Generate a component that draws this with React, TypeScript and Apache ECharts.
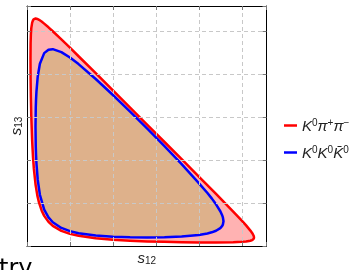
import React, { useEffect, useRef } from "react";
import * as echarts from "echarts";

// Dalitz-plot boundaries (units: GeV^2)
const redS12 = [0.406, 0.42, 0.45, 0.5, 0.6, 0.7, 0.8, 1, 1.2, 1.4, 1.7, 2, 2.5, 3, 4, 5, 6, 8, 10, 12, 14, 16, 18, 20, 22, 24, 25, 25.5, 26, 26.2, 26.3, 26.4, 26.42];
const redUpper = [21.7, 23.52, 24.54, 25.31, 25.95, 26.22, 26.35, 26.42, 26.37, 26.27, 26.07, 25.83, 25.4, 24.94, 24.0, 23.03, 22.04, 20.07, 18.08, 16.08, 14.08, 12.08, 10.08, 8.07, 6.04, 4.0, 2.94, 2.39, 1.79, 1.52, 1.35, 1.12, 0.99];
const redLower = [21.7, 19.35, 17.29, 15.06, 12.21, 10.32, 8.95, 7.1, 5.88, 5.03, 4.13, 3.5, 2.8, 2.34, 1.75, 1.41, 1.18, 0.89, 0.72, 0.61, 0.53, 0.48, 0.44, 0.41, 0.41, 0.43, 0.48, 0.52, 0.61, 0.69, 0.75, 0.88, 0.99];

const blueS12 = [0.99, 1.02, 1.05, 1.1, 1.25, 1.5, 2, 2.5, 3, 4, 5, 6, 8, 10, 12, 14, 16, 18, 20, 21, 21.5, 22, 22.5, 22.7, 22.8, 22.87];
const blueUpper = [13.81, 16.06, 16.95, 17.94, 19.69, 21.17, 22.4, 22.8, 22.86, 22.52, 21.89, 21.13, 19.4, 17.54, 15.61, 13.63, 11.6, 9.51, 7.31, 6.16, 5.53, 4.84, 4.04, 3.61, 3.33, 2.88];
const blueLower = [13.81, 11.54, 10.62, 9.58, 7.68, 5.95, 4.22, 3.32, 2.76, 2.1, 1.73, 1.49, 1.22, 1.08, 1.01, 0.99, 1.02, 1.1, 1.29, 1.46, 1.59, 1.77, 2.08, 2.3, 2.49, 2.88];

const seriesNames = ["K0pipi", "K0K0K0bar"];
const legendRich: Record<string, string> = {
  K0pipi: "{k|K}{s|0}{k|π}{s|+}{k|π}{s|−}",
  K0K0K0bar: "{k|K}{s|0}{k|K}{s|0}{k|K\u0304}{s|0}",
};
const axisMax = 27.875;
const gridStep = 5;

function closedLoop(xs: number[], up: number[], lo: number[]) {
  const pts: number[][] = xs.map((x, i) => [x, up[i]]);
  for (let i = xs.length - 1; i >= 0; i--) pts.push([xs[i], lo[i]]);
  return pts;
}

export default function App() {
  const ref = useRef<HTMLDivElement>(null);
  useEffect(() => {
    if (!ref.current) return;
    const chart = echarts.init(ref.current, undefined, { renderer: "svg" });
    const redLoop = closedLoop(redS12, redUpper, redLower);
    const blueLoop = closedLoop(blueS12, blueUpper, blueLower);

    const makeSeries = (name: string, pts: number[][], fill: string, stroke: string, z: number) => ({
      type: "custom",
      name,
      coordinateSystem: "cartesian2d",
      data: pts,
      encode: { x: 0, y: 1 },
      silent: true,
      z,
      itemStyle: { color: stroke },
      renderItem: (params: any, api: any) => {
        if (params.dataIndex !== 0) return { type: "group", children: [] };
        return {
          type: "polygon",
          shape: { points: pts.map((p) => api.coord(p)) },
          style: { fill, stroke, lineWidth: 2.5, lineJoin: "round" },
        };
      },
    });

    const baseAxis = {
      type: "value",
      min: 0,
      max: axisMax,
      interval: gridStep,
      axisLabel: { show: false },
    };
    const nameRich = {
      s: { fontSize: 15, fontStyle: "italic", fontFamily: "Liberation Sans", color: "#222" },
      n: { fontSize: 10, fontFamily: "Liberation Sans", color: "#222", verticalAlign: "bottom" },
    };
    const frameLine = { show: true, onZero: false, lineStyle: { color: "#000", width: 1 } };
    const tick = { inside: true, length: 4, lineStyle: { color: "#777" } };
    const split = { show: true, lineStyle: { color: "#c8c8c8", type: [4, 3], width: 1 } };

    chart.setOption({
      animation: false,
      grid: { left: 23, top: 6, right: 83.5, bottom: 21, show: false },
      xAxis: [
        {
          ...baseAxis,
          position: "bottom",
          name: "{s|s}{n|12}",
          nameLocation: "middle",
          nameGap: 4,
          nameTextStyle: { rich: nameRich },
          axisLine: frameLine,
          axisTick: tick,
          splitLine: split,
          z: 5,
        },
        {
          ...baseAxis,
          position: "top",
          axisLine: frameLine,
          axisTick: tick,
          splitLine: { show: false },
          z: 5,
        },
      ],
      yAxis: [
        {
          ...baseAxis,
          position: "left",
          name: "{s|s}{n|13}",
          nameLocation: "middle",
          nameGap: 4,
          nameTextStyle: { rich: nameRich },
          axisLine: frameLine,
          axisTick: tick,
          splitLine: split,
          z: 5,
        },
        {
          ...baseAxis,
          position: "right",
          axisLine: frameLine,
          axisTick: tick,
          splitLine: { show: false },
          z: 5,
        },
      ],
      legend: {
        orient: "vertical",
        left: 279,
        top: 112,
        itemWidth: 13,
        itemHeight: 2.5,
        itemGap: 11,
        icon: "rect",
        data: [
          { name: seriesNames[0], itemStyle: { color: "#ff0000", borderWidth: 0 } },
          { name: seriesNames[1], itemStyle: { color: "#0000ff", borderWidth: 0 } },
        ],
        formatter: (name: string) => legendRich[name],
        textStyle: {
          rich: {
            k: { fontSize: 15, fontStyle: "italic", fontFamily: "Liberation Sans", color: "#222", lineHeight: 17 },
            s: { fontSize: 10, fontFamily: "Liberation Sans", color: "#222", verticalAlign: "top", lineHeight: 17 },
          },
        },
      },
      graphic: [
        {
          type: "text",
          left: -1,
          top: 256,
          style: { text: "try", font: '24px "DejaVu Sans"', fill: "#000" },
        },
      ],
      series: [
        makeSeries(seriesNames[0], redLoop, "rgba(255,0,0,0.3)", "#ff0000", 2),
        makeSeries(seriesNames[1], blueLoop, "rgba(190,175,100,0.5)", "#0000ff", 3),
      ],
    });
    return () => chart.dispose();
  }, []);
  return <div ref={ref} style={{ position: "fixed", left: 0, top: 0, width: 350, height: 270 }} />;
}
